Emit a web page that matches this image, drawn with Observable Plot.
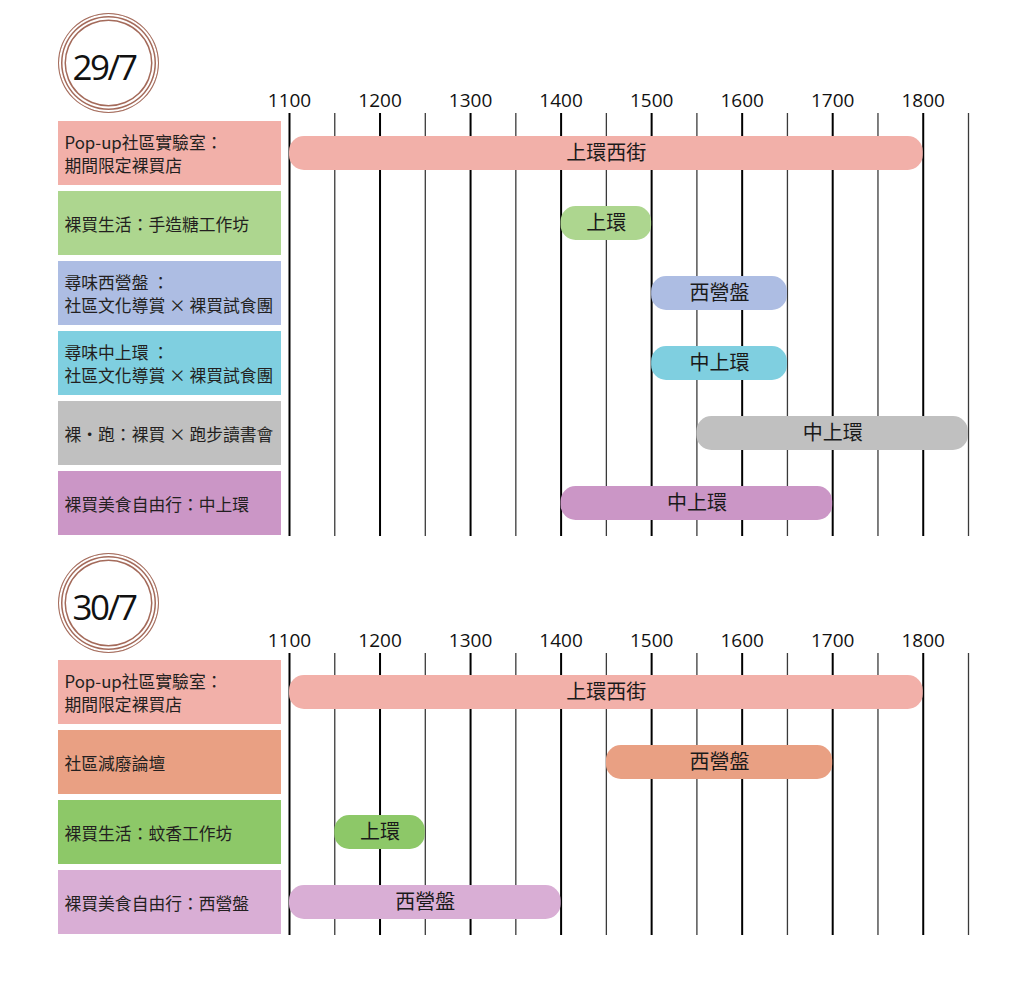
<!DOCTYPE html>
<html>
<head>
<meta charset="utf-8">
<script src="https://cdn.jsdelivr.net/npm/d3@7"></script>
<script src="https://cdn.jsdelivr.net/npm/@observablehq/plot@0.6"></script>
<style>
  html, body { margin: 0; padding: 0; background: #fff; }
  #root { position: relative; width: 1024px; height: 982px; overflow: hidden; font-family: "Open Sans", "Noto Sans CJK TC", sans-serif; }
  .ring { position: absolute; box-sizing: border-box; border-radius: 50%; border: 1.5px solid #a46b5b;
          box-shadow: inset 0 0 0 2px #fff, inset 0 0 0 3.5px #a46b5b, inset 0 0 0 5.5px #fff, inset 0 0 0 7px #a46b5b; }
  .date { position: absolute; font-family: "Open Sans", sans-serif; font-size: 35px; color: #111; letter-spacing: -2.5px; transform: translate(-50%, -50%); white-space: nowrap; }
  .abs { position: absolute; }
  svg.timeline [aria-label^="x-axis"] text { font-size: 19px; font-family: "Open Sans", sans-serif; fill: #111; }
</style>
</head>
<body>
<div id="root"></div>
<script>
// ---- data ----
const dayTitles = ["29/7", "30/7"];

const day1Events = [
  "Pop-up社區實驗室：\n期間限定裸買店",
  "裸買生活：手造糖工作坊",
  "尋味西營盤 ：\n社區文化導賞 × 裸買試食團",
  "尋味中上環 ：\n社區文化導賞 × 裸買試食團",
  "裸・跑：裸買 × 跑步讀書會",
  "裸買美食自由行：中上環"
];
const day1Places = ["上環西街", "上環", "西營盤", "中上環", "中上環", "中上環"];
const day1Start = [1100, 1400, 1500, 1500, 1530, 1400];
const day1End = [1800, 1500, 1630, 1630, 1830, 1700];
const day1Colors = ["#f2b0a9", "#add68f", "#adbde3", "#7fcfe0", "#c0c0c0", "#cb96c6"];

const day2Events = [
  "Pop-up社區實驗室：\n期間限定裸買店",
  "社區減廢論壇",
  "裸買生活：蚊香工作坊",
  "裸買美食自由行：西營盤"
];
const day2Places = ["上環西街", "西營盤", "上環", "西營盤"];
const day2Start = [1100, 1430, 1130, 1100];
const day2End = [1800, 1700, 1230, 1400];
const day2Colors = ["#f2b0a9", "#e9a083", "#8dc868", "#d9aed5"];

const tickLabels = [1100, 1200, 1300, 1400, 1500, 1600, 1700, 1800];
const gridTimes = [1100, 1130, 1200, 1230, 1300, 1330, 1400, 1430, 1500, 1530, 1600, 1630, 1700, 1730, 1800, 1830];

// ---- helpers ----
const toH = v => Math.floor(v / 100) + (v % 100) / 60;
const root = document.getElementById("root");

function buildPanel(offsetY, title, events, places, starts, ends, colors) {
  const rows = events.map((e, i) => ({
    event: e, place: places[i], s: toH(starts[i]), e2: toH(ends[i]), color: colors[i]
  }));
  const grid = gridTimes.map(t => ({t: toH(t), hour: t % 100 === 0}));
  const step = 70.5;
  const mt = 36, mb = 6;
  const h = mt + mb + step * rows.length;
  const top = offsetY + 80;

  // date ring
  const ring = document.createElement("div");
  ring.className = "ring";
  Object.assign(ring.style, {left: (108 - 50) + "px", top: (offsetY + 63 - 50) + "px", width: "101px", height: "100px"});
  root.appendChild(ring);
  const dt = document.createElement("div");
  dt.className = "date";
  dt.textContent = title;
  Object.assign(dt.style, {left: "104px", top: (offsetY + 66) + "px"});
  root.appendChild(dt);

  const tickH = tickLabels.map(toH);
  // timeline
  const timeline = Plot.plot({
    width: 1024, height: h,
    marginLeft: 289, marginRight: 56, marginTop: mt, marginBottom: mb,
    style: {fontFamily: "'Noto Sans CJK TC', 'Open Sans', sans-serif", background: "transparent"},
    x: {domain: [11, 18.5], axis: "top", ticks: tickH,
        tickFormat: (d) => String(tickLabels[tickH.indexOf(d)]), tickSize: 0, tickPadding: 10, label: null},
    y: {domain: rows.map(r => r.event), type: "band", padding: 0, axis: null},
    color: {type: "identity"},
    marks: [
      Plot.ruleX(grid.filter(g => !g.hour), {x: "t", stroke: "#3a3a3a", strokeWidth: 1.3, insetTop: -3, insetBottom: 3}),
      Plot.ruleX(grid.filter(g => g.hour), {x: "t", stroke: "#000", strokeWidth: 2, insetTop: -3, insetBottom: 3}),
      Plot.barX(rows, {x1: "s", x2: "e2", y: "event", fill: "color", insetTop: 18, insetBottom: 18, rx: 15, ry: 15}),
      Plot.text(rows, {x: r => (r.s + r.e2) / 2, y: "event", text: "place", fontSize: 20, fill: "#1a1a1a"})
    ]
  });
  timeline.classList.add("abs", "timeline");
  Object.assign(timeline.style, {left: "0px", top: top + "px"});
  root.appendChild(timeline);

  // label column
  const labels = Plot.plot({
    width: 223, height: h,
    marginLeft: 0, marginRight: 0, marginTop: mt, marginBottom: mb,
    style: {fontFamily: "'Noto Sans CJK TC', 'Open Sans', sans-serif", background: "transparent"},
    x: {domain: ["label"], type: "band", padding: 0, axis: null},
    y: {domain: rows.map(r => r.event), type: "band", padding: 0, axis: null},
    color: {type: "identity"},
    marks: [
      Plot.cell(rows, {x: () => "label", y: "event", fill: "color", insetTop: 3, insetBottom: 3}),
      Plot.text(rows, {y: "event", text: "event", frameAnchor: "left", textAnchor: "start", dx: 6,
                       fontSize: 16.8, lineHeight: 1.35, fill: "#231f20"})
    ]
  });
  labels.classList.add("abs");
  Object.assign(labels.style, {left: "58px", top: top + "px"});
  root.appendChild(labels);
}

buildPanel(0, dayTitles[0], day1Events, day1Places, day1Start, day1End, day1Colors);
buildPanel(540, dayTitles[1], day2Events, day2Places, day2Start, day2End, day2Colors);
</script>
</body>
</html>
